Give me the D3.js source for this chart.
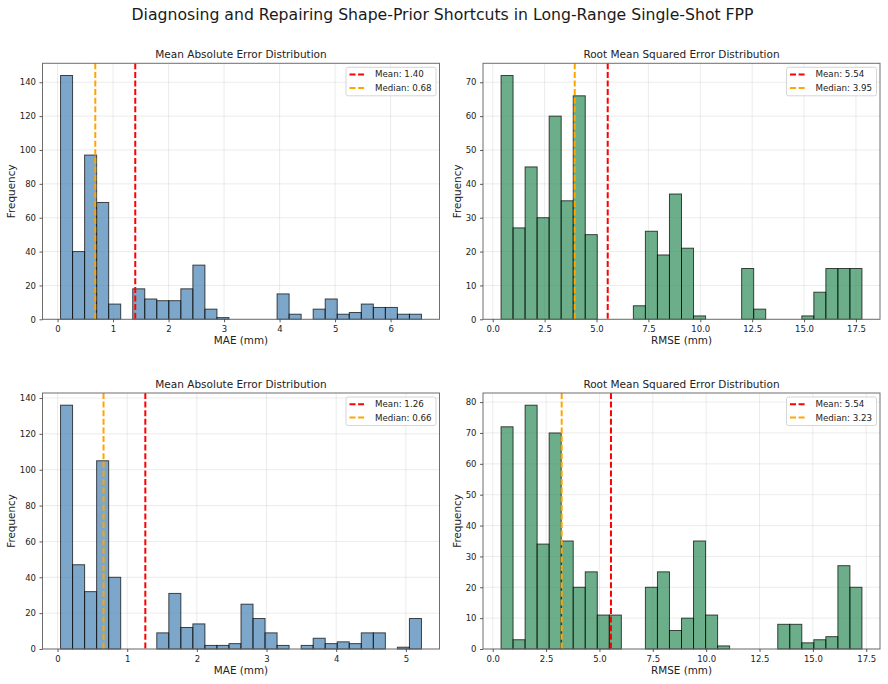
<!DOCTYPE html>
<html>
<head>
<meta charset="utf-8">
<script src="https://cdn.jsdelivr.net/npm/d3@7/dist/d3.min.js"></script>
<style>
  body { margin: 0; background: #fff; }
  svg { font-family: "DejaVu Sans", sans-serif; }
</style>
</head>
<body>
<div id="chart"></div>
<script>
// Histogram counts (30 bins per panel)
var maeTopCounts = [144,40,97,69,9,0,18,12,11,11,18,32,6,1,0,0,0,0,15,3,0,6,12,3,4,9,7,7,3,3];
var rmseTopCounts = [72,27,45,30,60,35,66,25,0,0,0,4,26,19,37,21,1,0,0,0,15,3,0,0,0,1,8,15,15,15];
var maeBotCounts = [136,47,32,105,40,0,0,0,9,31,12,14,2,2,3,25,17,9,2,0,2,6,3,4,3,9,9,0,1,17];
var rmseBotCounts = [72,3,79,34,70,35,20,25,11,11,0,0,20,25,6,10,35,11,1,0,0,0,0,8,8,2,3,4,27,20];

// Range [min, max] of the binned values
var maeTopRange = [0.054, 6.556];
var rmseTopRange = [0.40, 17.79];
var maeBotRange = [0.043, 5.224];
var rmseBotRange = [0.389, 17.30];

// Mean / median markers
var maeTopStats = [1.40, 0.68];
var rmseTopStats = [5.54, 3.95];
var maeBotStats = [1.26, 0.66];
var rmseBotStats = [5.54, 3.23];

// Tick values
var maeTopXTicks = [0, 1, 2, 3, 4, 5, 6];
var maeBotXTicks = [0, 1, 2, 3, 4, 5];
var rmseXTicks = [0, 2.5, 5, 7.5, 10, 12.5, 15, 17.5];
var maeYTicks = [0, 20, 40, 60, 80, 100, 120, 140];
var rmseTopYTicks = [0, 10, 20, 30, 40, 50, 60, 70];
var rmseBotYTicks = [0, 10, 20, 30, 40, 50, 60, 70, 80];

var W = 888, H = 684;
var pw = 397, ph = 256;

var svg = d3.select("#chart")
  .append("svg")
  .attr("width", W)
  .attr("height", H);

// Figure title
svg.append("text")
  .attr("x", 442.5)
  .attr("y", 19.5)
  .attr("text-anchor", "middle")
  .attr("font-size", "16px")
  .attr("textLength", 622)
  .attr("lengthAdjust", "spacingAndGlyphs")
  .attr("fill", "#1a1a1a")
  .text("Diagnosing and Repairing Shape-Prior Shortcuts in Long-Range Single-Shot FPP");

function drawPanel(p) {
  var g = svg.append("g")
    .attr("transform", "translate(" + p.left + "," + p.top + ")");

  var n = p.counts.length;
  var binW = (p.range[1] - p.range[0]) / n;
  var pad = (p.range[1] - p.range[0]) * 0.05;

  var xScale = d3.scaleLinear()
    .domain([p.range[0] - pad, p.range[1] + pad])
    .range([0, pw]);

  var yScale = d3.scaleLinear()
    .domain([0, d3.max(p.counts) * 1.05])
    .range([ph, 0]);

  // grid
  g.append("g").selectAll("line.gx")
    .data(p.xTicks)
    .enter().append("line")
    .attr("x1", function(d) { return xScale(d); })
    .attr("x2", function(d) { return xScale(d); })
    .attr("y1", 0).attr("y2", ph)
    .attr("stroke", "#b0b0b0").attr("stroke-opacity", 0.3).attr("stroke-width", 0.8);

  g.append("g").selectAll("line.gy")
    .data(p.yTicks)
    .enter().append("line")
    .attr("x1", 0).attr("x2", pw)
    .attr("y1", function(d) { return yScale(d); })
    .attr("y2", function(d) { return yScale(d); })
    .attr("stroke", "#b0b0b0").attr("stroke-opacity", 0.3).attr("stroke-width", 0.8);

  // bars
  g.append("g").selectAll("rect")
    .data(p.counts)
    .enter().append("rect")
    .attr("x", function(d, i) { return xScale(p.range[0] + i * binW); })
    .attr("width", function(d, i) { return xScale(p.range[0] + (i + 1) * binW) - xScale(p.range[0] + i * binW); })
    .attr("y", function(d) { return yScale(d); })
    .attr("height", function(d) { return ph - yScale(d); })
    .attr("fill", p.color)
    .attr("fill-opacity", 0.7)
    .attr("stroke", "#000")
    .attr("stroke-opacity", 0.7)
    .attr("stroke-width", 1);

  // mean / median lines
  var lines = [
    { v: p.stats[0], color: "#ff0000", label: "Mean: " + p.stats[0].toFixed(2) },
    { v: p.stats[1], color: "#ffa500", label: "Median: " + p.stats[1].toFixed(2) }
  ];
  g.append("g").selectAll("line")
    .data(lines)
    .enter().append("line")
    .attr("x1", function(d) { return xScale(d.v); })
    .attr("x2", function(d) { return xScale(d.v); })
    .attr("y1", 0).attr("y2", ph)
    .attr("stroke", function(d) { return d.color; })
    .attr("stroke-width", 2)
    .attr("stroke-dasharray", "6,2.6");

  // spines
  g.append("rect")
    .attr("x", 0).attr("y", 0)
    .attr("width", pw).attr("height", ph)
    .attr("fill", "none")
    .attr("stroke", "#6e6e6e")
    .attr("stroke-width", 1);

  // axes
  var xAxis = d3.axisBottom(xScale)
    .tickValues(p.xTicks)
    .tickFormat(p.xFormat)
    .tickSize(3)
    .tickPadding(4);
  var gx = g.append("g")
    .attr("transform", "translate(0," + ph + ")")
    .call(xAxis);

  var yAxis = d3.axisLeft(yScale)
    .tickValues(p.yTicks)
    .tickSize(3)
    .tickPadding(3.5);
  var gy = g.append("g").call(yAxis);

  [gx, gy].forEach(function(a) {
    a.select(".domain").remove();
    a.selectAll("line").attr("stroke", "#333").attr("stroke-width", 0.8);
    a.selectAll("text")
      .attr("font-family", "DejaVu Sans")
      .attr("font-size", "8.5px")
      .attr("fill", "#222");
  });

  // y label placed next to the widest tick label
  var tickW = d3.max(gy.selectAll("text").nodes(), function(t) { return t.getComputedTextLength(); });
  g.append("text")
    .attr("transform", "translate(" + (-6.5 - tickW - 5) + "," + (ph / 2) + ") rotate(-90)")
    .attr("text-anchor", "middle")
    .attr("font-size", "10.4px")
    .attr("fill", "#222")
    .text("Frequency");

  // x label
  g.append("text")
    .attr("x", pw / 2)
    .attr("y", ph + 25)
    .attr("text-anchor", "middle")
    .attr("font-size", "10.4px")
    .attr("fill", "#222")
    .text(p.xLabel);

  // title
  g.append("text")
    .attr("x", pw / 2)
    .attr("y", -5.5)
    .attr("text-anchor", "middle")
    .attr("font-size", "10.5px")
    .attr("fill", "#222")
    .text(p.title);

  // legend
  var lg = g.append("g")
    .attr("transform", "translate(" + (pw - 93.5) + ",4)");
  lg.append("rect")
    .attr("width", 90).attr("height", 28.5)
    .attr("rx", 2)
    .attr("fill", "#fff").attr("fill-opacity", 0.8)
    .attr("stroke", "#cccccc").attr("stroke-width", 0.8);
  lines.forEach(function(d, i) {
    var yy = 7.2 + i * 13.4;
    lg.append("line")
      .attr("x1", 3.5).attr("x2", 19.5)
      .attr("y1", yy).attr("y2", yy)
      .attr("stroke", d.color)
      .attr("stroke-width", 2)
      .attr("stroke-dasharray", "6,2.6");
    lg.append("text")
      .attr("x", 29)
      .attr("y", yy + 3)
      .attr("font-size", "8.7px")
      .attr("fill", "#222")
      .text(d.label);
  });
}

var fmtInt = d3.format("d");
var fmt1 = d3.format(".1f");

drawPanel({ left: 42.5, top: 63.3, counts: maeTopCounts, range: maeTopRange, stats: maeTopStats,
  xTicks: maeTopXTicks, yTicks: maeYTicks, xFormat: fmtInt, color: "#4682b4",
  xLabel: "MAE (mm)", title: "Mean Absolute Error Distribution" });
drawPanel({ left: 483, top: 63.3, counts: rmseTopCounts, range: rmseTopRange, stats: rmseTopStats,
  xTicks: rmseXTicks, yTicks: rmseTopYTicks, xFormat: fmt1, color: "#2e8b57",
  xLabel: "RMSE (mm)", title: "Root Mean Squared Error Distribution" });
drawPanel({ left: 42.5, top: 393, counts: maeBotCounts, range: maeBotRange, stats: maeBotStats,
  xTicks: maeBotXTicks, yTicks: maeYTicks, xFormat: fmtInt, color: "#4682b4",
  xLabel: "MAE (mm)", title: "Mean Absolute Error Distribution" });
drawPanel({ left: 483, top: 393, counts: rmseBotCounts, range: rmseBotRange, stats: rmseBotStats,
  xTicks: rmseXTicks, yTicks: rmseBotYTicks, xFormat: fmt1, color: "#2e8b57",
  xLabel: "RMSE (mm)", title: "Root Mean Squared Error Distribution" });
</script>
</body>
</html>
